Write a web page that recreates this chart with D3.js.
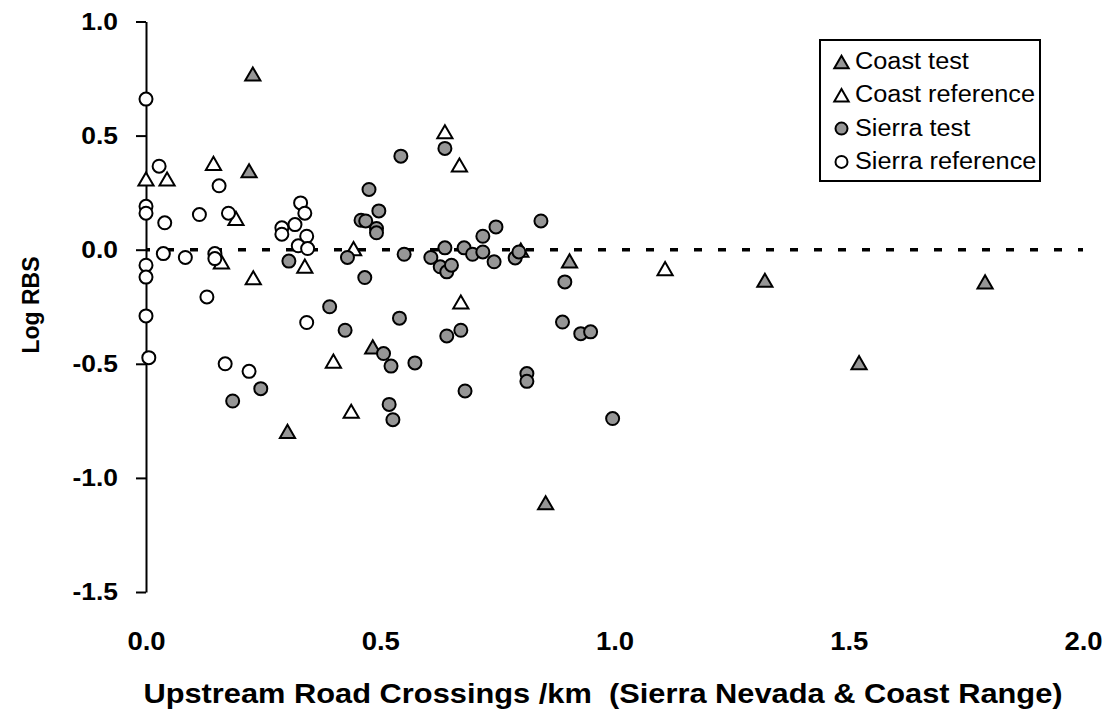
<!DOCTYPE html>
<html>
<head>
<meta charset="utf-8">
<script src="https://cdn.jsdelivr.net/npm/d3@7"></script>
<style>
  body { margin: 0; background: #fff; }
  text { font-family: Arial, "Liberation Sans", sans-serif; fill: #000; }
</style>
</head>
<body>
<div id="chart"></div>
<script>
/* data: [road crossings per km, log RBS] */
const coastTest = [
    [0.228, 0.77], [0.22, 0.346], [0.302, -0.796], [0.484, -0.426], [0.904, -0.049],
    [0.853, -1.109], [1.321, -0.134], [1.522, -0.495], [1.791, -0.141]
];
const coastReference = [
    [0.0, 0.31], [0.045, 0.31], [0.144, 0.378], [0.192, 0.137], [0.161, -0.053],
    [0.229, -0.123], [0.339, -0.072], [0.443, 0.005], [0.4, -0.488], [0.438, -0.708],
    [0.638, 0.517], [0.669, 0.371], [0.672, -0.229], [0.8, -0.002], [1.108, -0.083]
];
const sierraTest = [
    [0.305, -0.05], [0.392, -0.25], [0.245, -0.609], [0.185, -0.663],
    [0.544, 0.41], [0.638, 0.444], [0.476, 0.264], [0.497, 0.17], [0.459, 0.129],
    [0.469, 0.126], [0.492, 0.093], [0.492, 0.074], [0.43, -0.034], [0.551, -0.02],
    [0.467, -0.122], [0.608, -0.034], [0.638, 0.008], [0.628, -0.075], [0.642, -0.097],
    [0.652, -0.068], [0.679, 0.008], [0.697, -0.02], [0.719, -0.01], [0.719, 0.059],
    [0.747, 0.1], [0.743, -0.053], [0.541, -0.3], [0.425, -0.353], [0.642, -0.378],
    [0.672, -0.353], [0.507, -0.455], [0.523, -0.51], [0.574, -0.496], [0.681, -0.619],
    [0.519, -0.678], [0.527, -0.745], [0.843, 0.126], [0.788, -0.036], [0.796, -0.01],
    [0.894, -0.141], [0.889, -0.317], [0.928, -0.368], [0.949, -0.36], [0.813, -0.543],
    [0.813, -0.577], [0.996, -0.74]
];
const sierraReference = [
    [0.0, 0.66], [0.028, 0.366], [0.156, 0.28], [0.0, 0.19], [0.0, 0.16], [0.04, 0.118],
    [0.114, 0.154], [0.176, 0.16], [0.33, 0.205], [0.339, 0.16], [0.318, 0.11],
    [0.29, 0.096], [0.29, 0.068], [0.343, 0.059], [0.325, 0.017], [0.345, 0.005],
    [0.037, -0.017], [0.084, -0.034], [0.147, -0.017], [0.147, -0.039], [0.0, -0.068],
    [0.0, -0.12], [0.13, -0.207], [0.0, -0.29], [0.006, -0.473], [0.169, -0.5],
    [0.22, -0.533], [0.343, -0.319]
];
const xTicks = [0, 0.5, 1, 1.5, 2];
const yTicks = [-1.5, -1, -0.5, 0, 0.5, 1];
const legendLabels = ["Coast test", "Coast reference", "Sierra test", "Sierra reference"];

/* svg size */
const width = 1112;
const height = 717;
const gray = "#969696";
const stretch = 1.1; // text in the original is a bit wider than tall

const x = d3.scaleLinear().domain([0, 2]).range([146, 1083]);
const y = d3.scaleLinear().domain([-1.5, 1]).range([592, 21.5]);

const svg = d3.select("#chart").append("svg")
    .attr("width", width)
    .attr("height", height);

/* y axis */
const yAxis = svg.append("g")
    .attr("transform", "translate(" + x(0) + ",0)")
    .call(d3.axisLeft(y)
        .tickValues(yTicks)
        .tickFormat(d => d.toFixed(1))
        .tickSize(10)
        .tickSizeOuter(0)
        .tickPadding(18));
yAxis.select(".domain").attr("stroke-width", 2);
yAxis.selectAll(".tick line").attr("stroke-width", 2);
yAxis.selectAll(".tick text")
    .attr("font-size", 24).attr("font-weight", "bold")
    .attr("font-family", "Arial, 'Liberation Sans', sans-serif");

/* x axis: labels only */
const xAxis = svg.append("g")
    .attr("transform", "translate(0," + y(-1.5) + ")")
    .call(d3.axisBottom(x)
        .tickValues(xTicks)
        .tickFormat(d => d.toFixed(1))
        .tickSize(0)
        .tickPadding(40));
xAxis.select(".domain").remove();
xAxis.selectAll(".tick text")
    .attr("font-size", 25).attr("font-weight", "bold")
    .attr("font-family", "Arial, 'Liberation Sans', sans-serif");

/* dashed zero line */
svg.append("line")
    .attr("x1", x(0)).attr("x2", x(2))
    .attr("y1", y(0)).attr("y2", y(0))
    .attr("stroke", "#000")
    .attr("stroke-width", 3.5)
    .attr("stroke-dasharray", "8,16")
    .attr("stroke-dashoffset", 4);

/* axis titles */
svg.append("text")
    .attr("class", "wide")
    .attr("x", 603).attr("y", 703)
    .attr("text-anchor", "middle")
    .attr("font-size", 28).attr("font-weight", "bold")
    .style("white-space", "pre")
    .text("Upstream Road Crossings /km  (Sierra Nevada & Coast Range)");

svg.append("text")
    .attr("transform", "translate(31,305) rotate(-90)")
    .attr("text-anchor", "middle")
    .attr("dy", "0.35em")
    .attr("font-size", 23).attr("font-weight", "bold")
    .text("Log RBS");

/* markers */
const tri = d3.symbol(d3.symbolTriangle, 100);
const triShift = 2.2; // centre the triangle's box on the point

function drawTriangles(data, fill) {
    svg.append("g").selectAll("path")
        .data(data)
        .enter().append("path")
        .attr("d", tri)
        .attr("transform", d => "translate(" + x(d[0]) + "," + (y(d[1]) + triShift) + ")")
        .attr("fill", fill)
        .attr("stroke", "#000")
        .attr("stroke-width", 2);
}

function drawCircles(data, fill) {
    svg.append("g").selectAll("circle")
        .data(data)
        .enter().append("circle")
        .attr("cx", d => x(d[0]))
        .attr("cy", d => y(d[1]))
        .attr("r", 6.5)
        .attr("fill", fill)
        .attr("stroke", "#000")
        .attr("stroke-width", 2);
}

drawTriangles(coastTest, gray);
drawTriangles(coastReference, "#fff");
drawCircles(sierraTest, gray);
drawCircles(sierraReference, "#fff");

/* legend */
const legend = svg.append("g");
legend.append("rect")
    .attr("x", 820).attr("y", 40)
    .attr("width", 220).attr("height", 141)
    .attr("fill", "#fff")
    .attr("stroke", "#000")
    .attr("stroke-width", 2);

const legendItems = [
    { label: legendLabels[0], shape: "tri", fill: gray },
    { label: legendLabels[1], shape: "tri", fill: "#fff" },
    { label: legendLabels[2], shape: "circle", fill: gray },
    { label: legendLabels[3], shape: "circle", fill: "#fff" }
];

const rows = legend.selectAll(".row")
    .data(legendItems)
    .enter().append("g")
    .attr("class", "row")
    .attr("transform", (d, i) => "translate(841.5," + (62 + i * 33.3) + ")");

rows.filter(d => d.shape === "tri").append("path")
    .attr("d", d3.symbol(d3.symbolTriangle, 90))
    .attr("transform", "translate(0,2)")
    .attr("fill", d => d.fill)
    .attr("stroke", "#000")
    .attr("stroke-width", 2);

rows.filter(d => d.shape === "circle").append("circle")
    .attr("r", 6)
    .attr("fill", d => d.fill)
    .attr("stroke", "#000")
    .attr("stroke-width", 2);

rows.append("text")
    .attr("class", "wide")
    .attr("x", 13.5)
    .attr("dy", "0.3em")
    .attr("font-size", 23)
    .text(d => d.label);

/* stretch horizontal text a little to match the original proportions */
svg.selectAll(".tick text, text.wide").each(function() {
    const w = this.getComputedTextLength();
    d3.select(this)
        .attr("textLength", w * stretch)
        .attr("lengthAdjust", "spacingAndGlyphs");
});
</script>
</body>
</html>
